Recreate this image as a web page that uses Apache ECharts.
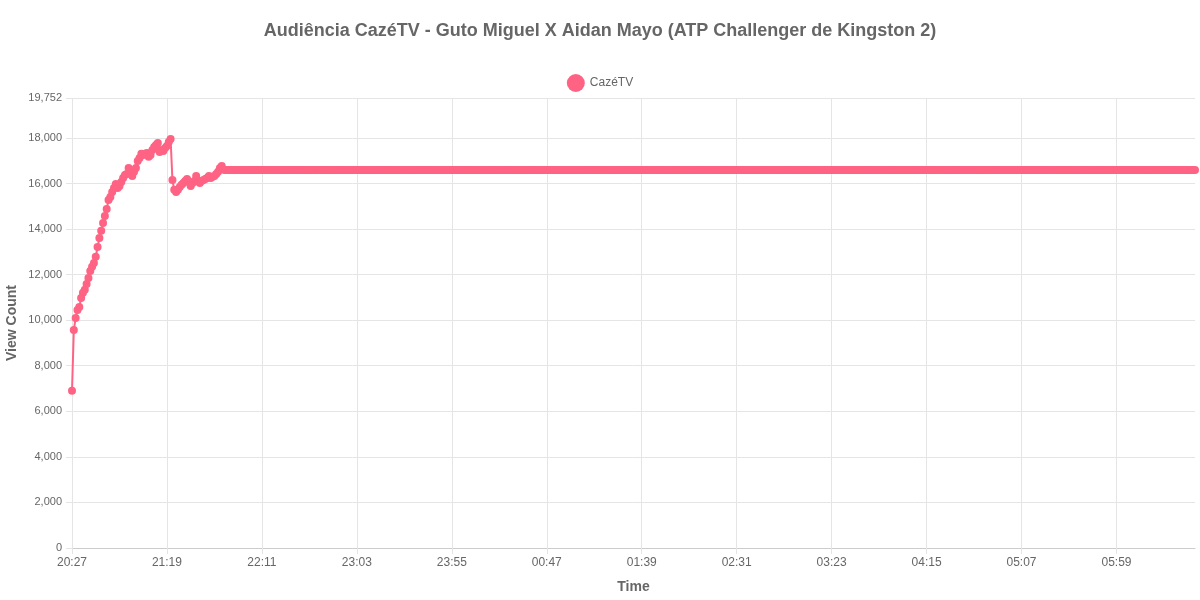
<!DOCTYPE html>
<html>
<head>
<meta charset="utf-8">
<script src="https://cdn.jsdelivr.net/npm/echarts@6/dist/echarts.min.js"></script>
<style>
  html, body { margin: 0; padding: 0; background: #fff; }
  #chart { width: 1200px; height: 600px; }
</style>
</head>
<body>
<div id="chart"></div>
<script>
// first reading at 20:27, one reading per minute
var startHour = 20, startMinute = 27;
var pointCount = 616;

// readings while the stream was ramping up (one per minute)
var rampValues = [
    6900, 9570, 10100, 10450, 10580, 10970, 11200, 11330, 11590, 11850,
    12160, 12340, 12510, 12780, 13210, 13610, 13920, 14270, 14570, 14880,
    15280, 15410, 15630, 15800, 15980, 15800, 15890, 16070, 16240, 16370,
    16420, 16680, 16460, 16330, 16510, 16680, 16990, 17120, 17300, 17250,
    17300, 17340, 17170, 17250, 17470, 17600, 17690, 17780, 17380, 17470,
    17430, 17560, 17650, 17820, 17950, 16150, 15720, 15630, 15720, 15850,
    15940, 16020, 16110, 16200, 16070, 15890, 16020, 16110, 16330, 16110,
    16020, 16110, 16150, 16200, 16240, 16330, 16240, 16290, 16330, 16420,
    16510, 16680, 16770, 16600
];
// the count stayed at this value for the rest of the night
var flatValue = 16590;

var yMax = 19752;
var yStep = 2000;

var times = [];
for (var i = 0; i < pointCount; i++) {
    var m = (startHour * 60 + startMinute + i) % 1440;
    var hh = Math.floor(m / 60), mm = m % 60;
    times.push((hh < 10 ? '0' : '') + hh + ':' + (mm < 10 ? '0' : '') + mm);
}
var counts = rampValues.slice();
while (counts.length < pointCount) counts.push(flatValue);

var myChart = echarts.init(document.getElementById('chart'));

var textColor = '#666';
var gridColor = '#e5e5e5';
var font = '"Helvetica Neue", Helvetica, Arial, "Liberation Sans", sans-serif';

var options = {
    animation: false,
    textStyle: { fontFamily: font },
    title: {
        text: 'Audiência CazéTV - Guto Miguel X Aidan Mayo (ATP Challenger de Kingston 2)',
        left: 'center',
        top: 17,
        textStyle: { color: textColor, fontSize: 18, fontWeight: 'bold', fontFamily: font }
    },
    legend: {
        top: 69,
        left: 'center',
        icon: 'circle',
        itemWidth: 18,
        itemHeight: 18,
        itemGap: 10,
        textStyle: { color: textColor, fontSize: 12, fontFamily: font },
        data: ['CazéTV']
    },
    grid: {
        left: 72,
        right: 5,
        top: 98,
        bottom: 52,
        containLabel: false,
        outerBoundsMode: 'none'
    },
    xAxis: {
        type: 'category',
        boundaryGap: false,
        data: times,
        name: 'Time',
        nameLocation: 'middle',
        nameGap: 32,
        nameTextStyle: { color: textColor, fontSize: 14, fontWeight: 'bold' },
        axisLine: { lineStyle: { color: '#ccc' } },
        axisTick: { show: true, interval: 51, length: 6, lineStyle: { color: gridColor } },
        axisLabel: { interval: 51, color: textColor, fontSize: 12, margin: 9 },
        splitLine: { show: true, interval: 51, lineStyle: { color: gridColor } }
    },
    yAxis: {
        type: 'value',
        min: 0,
        max: yMax,
        interval: yStep,
        name: 'View Count',
        nameLocation: 'middle',
        nameGap: 53,
        nameMoveOverlap: false,
        nameTextStyle: { color: textColor, fontSize: 14, fontWeight: 'bold' },
        axisLine: { show: false },
        axisTick: { show: true, length: 6, lineStyle: { color: gridColor } },
        axisLabel: {
            color: textColor,
            fontSize: 11,
            margin: 10,
            formatter: function (v) { return v.toLocaleString('en-US'); }
        },
        splitLine: { show: true, lineStyle: { color: gridColor } }
    },
    series: [{
        name: 'CazéTV',
        type: 'line',
        data: counts,
        symbol: 'circle',
        symbolSize: 8,
        showAllSymbol: true,
        lineStyle: { width: 2, color: '#FF6384' },
        itemStyle: { color: '#FF6384', borderWidth: 0 }
    }],
    color: ['#FF6384']
};

myChart.setOption(options);
</script>
</body>
</html>
